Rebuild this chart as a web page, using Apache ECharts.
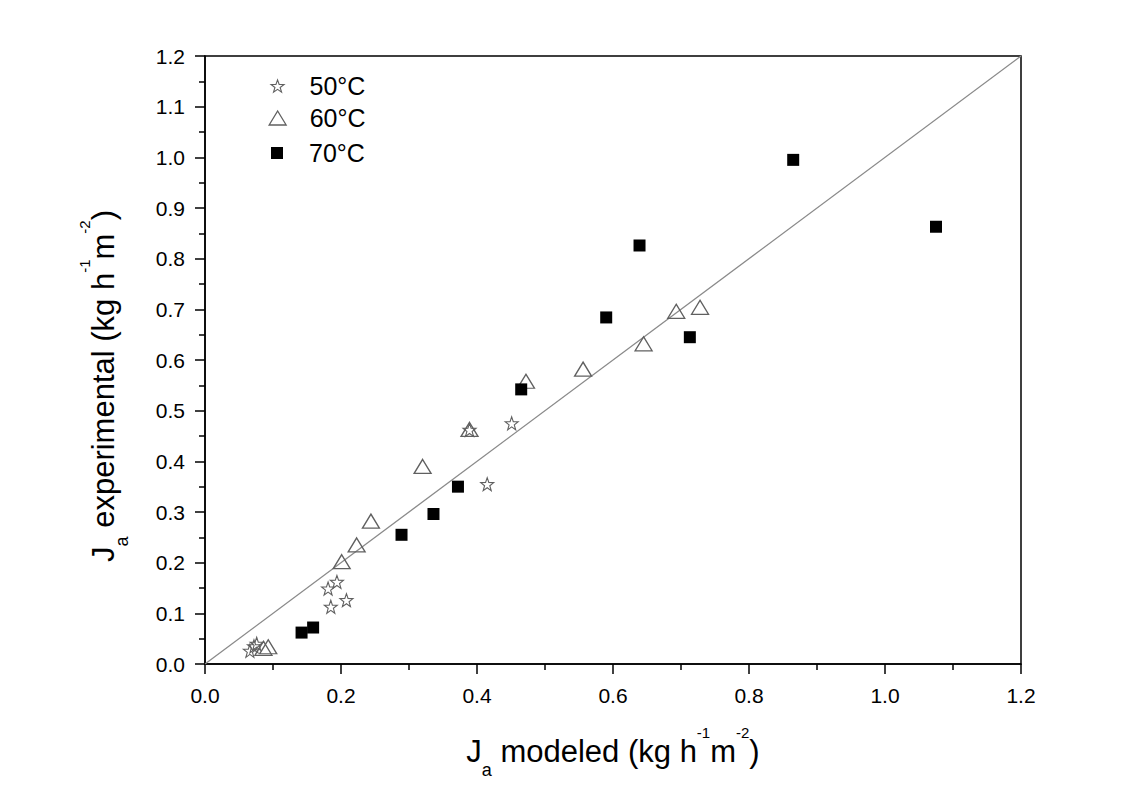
<!DOCTYPE html>
<html>
<head>
<meta charset="utf-8">
<script src="https://cdn.jsdelivr.net/npm/echarts@6/dist/echarts.min.js"></script>
<style>
html,body{margin:0;padding:0;background:#fff;}
#chart{width:1131px;height:798px;}
</style>
</head>
<body>
<div id="chart"></div>
<script>
// ---- data ----
const seriesNames = ['50°C', '60°C', '70°C'];
const xTicks = [0.0, 0.2, 0.4, 0.6, 0.8, 1.0, 1.2];
const yTicks = [0.0, 0.1, 0.2, 0.3, 0.4, 0.5, 0.6, 0.7, 0.8, 0.9, 1.0, 1.1, 1.2];
const data50 = [
  [0.066, 0.026], [0.072, 0.035], [0.076, 0.040],
  [0.181, 0.149], [0.194, 0.162], [0.185, 0.113], [0.208, 0.126],
  [0.389, 0.462], [0.415, 0.355], [0.451, 0.475]
];
const data60 = [
  [0.086, 0.031], [0.093, 0.034], [0.201, 0.202], [0.223, 0.235],
  [0.244, 0.282], [0.320, 0.390], [0.389, 0.463], [0.472, 0.558],
  [0.556, 0.582], [0.645, 0.632], [0.693, 0.696], [0.728, 0.704]
];
const data70 = [
  [0.142, 0.062], [0.159, 0.072], [0.289, 0.255], [0.336, 0.296],
  [0.372, 0.350], [0.465, 0.542], [0.590, 0.684], [0.639, 0.826],
  [0.713, 0.645], [0.865, 0.995], [1.075, 0.863]
];
const diagonal = [[0, 0], [1.2, 1.2]];

// ---- styling ----
const FONT = "'Liberation Sans', Arial, sans-serif";
const STAR = 'path://M50 0 L61.76 33.82 L97.55 34.55 L69.02 56.18 L79.39 90.45 L50 70 L20.61 90.45 L30.98 56.18 L2.45 34.55 L38.24 33.82 Z';
const starStyle = { color: 'rgba(255,255,255,0)', borderColor: '#606060', borderWidth: 1.1, opacity: 1 };
const triStyle = { color: 'rgba(255,255,255,0)', borderColor: '#606060', borderWidth: 1.3, opacity: 1 };
const sqStyle = { color: '#000', opacity: 1 };

const titleRich = {
  m: { fontSize: 31, lineHeight: 62, verticalAlign: 'middle', fontFamily: FONT, color: '#000' },
  sup: { fontSize: 15, verticalAlign: 'top', padding: [5, 0, 0, 0], fontFamily: FONT, color: '#000' },
  sub: { fontSize: 18, verticalAlign: 'bottom', padding: [0, 0, 3, 0], fontFamily: FONT, color: '#000' }
};

function legendAt(name, icon, w, h, cy, style) {
  const textLeft = 310, cx = 272;
  return {
    data: [{ name: name, icon: icon, itemStyle: style }],
    left: cx - w / 2, top: cy - 17,
    itemWidth: w, itemHeight: h,
    selectedMode: false,
    textStyle: { fontSize: 25, lineHeight: 26, fontFamily: FONT, color: '#000',
      padding: [0, 0, 0, textLeft - (cx + w / 2 + 5) - 6] }
  };
}

const chart = echarts.init(document.getElementById('chart'), null, { renderer: 'svg' });
chart.setOption({
  backgroundColor: '#fff',
  animation: false,
  textStyle: { fontFamily: FONT },
  grid: { left: 205, top: 56, width: 816, height: 608, show: true, borderColor: '#000', borderWidth: 1.5, backgroundColor: 'transparent' },
  legend: [
    legendAt(seriesNames[0], STAR, 13, 13, 85, starStyle),
    legendAt(seriesNames[1], 'triangle', 17, 14, 117, triStyle),
    legendAt(seriesNames[2], 'rect', 12, 12, 152, sqStyle)
  ],
  xAxis: {
    type: 'value', min: xTicks[0], max: xTicks[xTicks.length - 1], interval: 0.2,
    name: '{m|J}{sub|a}{m| modeled (kg h}{sup|-1}{m|m}{sup|-2}{m|)}',
    nameLocation: 'middle', nameGap: 56,
    nameTextStyle: { rich: titleRich },
    axisLine: { show: true, lineStyle: { color: '#000', width: 1.5 } },
    axisTick: { show: true, inside: false, length: 10, lineStyle: { color: '#000', width: 1.5 } },
    minorTick: { show: true, splitNumber: 2, length: 6, lineStyle: { color: '#000', width: 1.5 } },
    splitLine: { show: false },
    axisLabel: { fontSize: 21, color: '#000', margin: 21, fontFamily: FONT, formatter: v => v.toFixed(1) }
  },
  yAxis: {
    type: 'value', min: yTicks[0], max: yTicks[yTicks.length - 1], interval: 0.1,
    name: '{m|J}{sub|a}{m| experimental (kg h}{sup|-1}{m|m}{sup|-2}{m|)}',
    nameLocation: 'middle', nameGap: 71, nameRotate: 90,
    nameTextStyle: { rich: titleRich, padding: [0, 52, 0, 0] },
    axisLine: { show: true, lineStyle: { color: '#000', width: 1.5 } },
    axisTick: { show: true, inside: false, length: 10, lineStyle: { color: '#000', width: 1.5 } },
    minorTick: { show: true, splitNumber: 2, length: 6, lineStyle: { color: '#000', width: 1.5 } },
    splitLine: { show: false },
    axisLabel: { fontSize: 21, color: '#000', margin: 20, fontFamily: FONT, formatter: v => v.toFixed(1) }
  },
  series: [
    { name: 'diagonal', type: 'line', data: diagonal, symbol: 'none', silent: true, z: 1,
      lineStyle: { color: '#8a8a8a', width: 1.3 } },
    { name: seriesNames[0], type: 'scatter', data: data50, symbol: STAR, symbolSize: 13, itemStyle: starStyle, z: 3 },
    { name: seriesNames[1], type: 'scatter', data: data60, symbol: 'triangle', symbolSize: [17, 14], itemStyle: triStyle, z: 4 },
    { name: seriesNames[2], type: 'scatter', data: data70, symbol: 'rect', symbolSize: 12, itemStyle: sqStyle, z: 5 }
  ]
});
</script>
</body>
</html>
